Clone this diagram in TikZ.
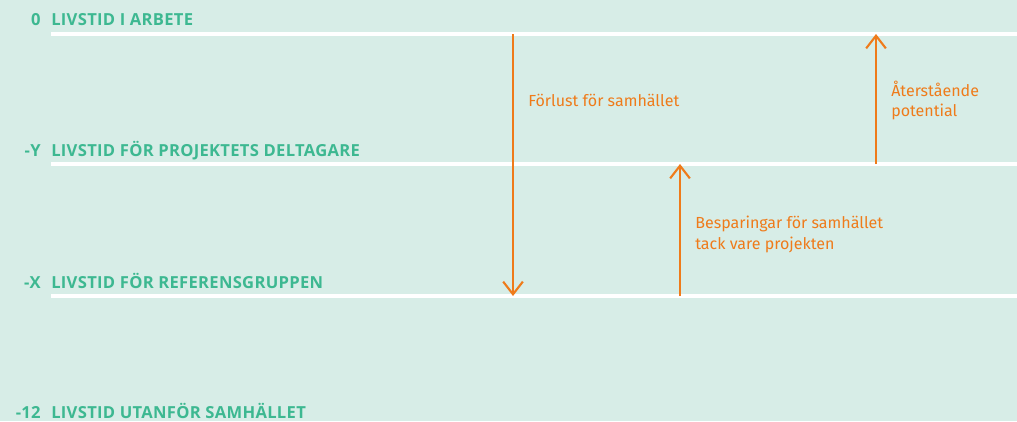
\documentclass[tikz,border=0pt]{standalone}
\usepackage{fontspec}
\setmainfont{Fira Sans}
\newfontfamily\rubrikfont{Open Sans}[LetterSpace=1.8]
\usetikzlibrary{arrows.meta}

\definecolor{bakgrund}{HTML}{D7EDE7}
\definecolor{gron}{HTML}{3DB891}
\definecolor{pilfarg}{HTML}{EF7B1A}

\begin{document}
\begin{tikzpicture}[x=0.025cm, y=-0.025cm, >=latex]

% --- Stildefinitioner ---
\tikzset{
    linje/.style={
        draw=white,
        line width=3.2pt
    },
    siffra/.style={
        text=gron,
        font=\rubrikfont\fontsize{11.8}{14}\selectfont\bfseries,
        anchor=base east,
        inner sep=0pt
    },
    niva/.style={
        text=gron,
        font=\rubrikfont\fontsize{11.8}{14}\selectfont\bfseries,
        anchor=base west,
        inner sep=0pt
    },
    forklaring/.style={
        text=pilfarg,
        font=\fontsize{11.4}{14.3}\selectfont,
        anchor=base west,
        align=left,
        inner sep=0pt
    },
    pil/.style={
        draw=pilfarg,
        line width=1.3pt,
        -{Straight Barb[length=9pt, width=14pt, line width=1.5pt]}
    }
}

% --- Bakgrund ---
\fill[bakgrund] (0,0) rectangle (1017,421);
\useasboundingbox (0,0) rectangle (1017,421);

% --- Nivåer ---
\coordinate (l0a) at (51,34);  \coordinate (l0b) at (1017,34);
\coordinate (lya) at (51,164); \coordinate (lyb) at (1017,164);
\coordinate (lxa) at (51,296); \coordinate (lxb) at (1017,296);

\draw[linje] (l0a) -- (l0b);
\draw[linje] (lya) -- (lyb);
\draw[linje] (lxa) -- (lxb);

\node[siffra] (s0)  at (41,25)  {0};
\node[niva]   (n0)  at (51,25)  {LIVSTID I ARBETE};
\node[siffra] (sy)  at (41,156.5) {-Y};
\node[niva]   (ny)  at (51,156.5) {LIVSTID FÖR PROJEKTETS DELTAGARE};
\node[siffra] (sx)  at (41,288) {-X};
\node[niva]   (nx)  at (51,288) {LIVSTID FÖR REFERENSGRUPPEN};
\node[siffra] (s12) at (41,418) {-12};
\node[niva]   (n12) at (51,418) {LIVSTID UTANFÖR SAMHÄLLET};

% --- Pilar ---
\coordinate (forlust0) at (513,34);  \coordinate (forlust1) at (513,296);
\coordinate (bespar0)  at (680,296); \coordinate (bespar1)  at (680,164);
\coordinate (kvar0)    at (876,164); \coordinate (kvar1)    at (876,34);

\draw[pil, line width=0.8pt] (forlust0) -- (forlust1);
\draw[pil] (bespar0) -- (bespar1);
\draw[pil] (kvar0) -- (kvar1);

% sista radens baslinje
\node[forklaring] (t1) at (528,106.5) {Förlust för samhället};
\node[forklaring] (t2) at (695,249)   {Besparingar för samhället\\tack vare projekten};
\node[forklaring] (t3) at (891,116.5) {Återstående\\potential};

\end{tikzpicture}
\end{document}
